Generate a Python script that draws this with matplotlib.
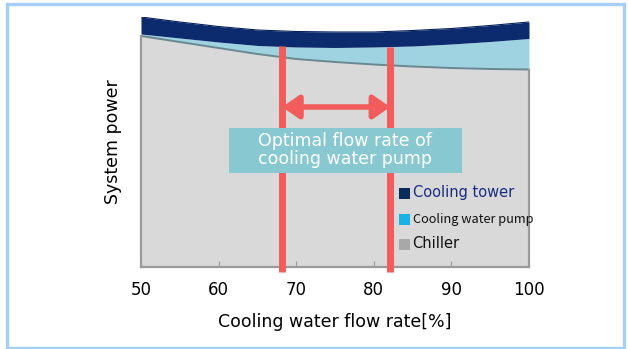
# System power vs cooling water flow rate (stacked areas)
import numpy as np
import matplotlib.pyplot as plt
from matplotlib.patches import Rectangle

flow = [50, 55, 60, 65, 70, 75, 80, 85, 90, 95, 100]
chiller = [92.4, 90.0, 87.6, 85.2, 83.2, 82.0, 81.0, 80.2, 79.6, 79.2, 79.0]
pump = [0.8, 1.6, 2.4, 3.4, 4.8, 5.8, 7.0, 8.2, 9.6, 11.0, 12.4]
tower = [6.8, 6.4, 6.2, 6.2, 6.2, 6.2, 6.0, 6.2, 6.2, 6.4, 6.6]
optimal = [68.2, 82.1]
xticks = [50, 60, 70, 80, 90, 100]

c_chiller = '#d9d9d9'
c_pump = '#9fd3e2'
c_tower = '#0c2b6e'
c_red = '#f25c5c'

x = np.array(flow)
y1 = np.array(chiller)
y2 = y1 + np.array(pump)
y3 = y2 + np.array(tower)

fig = plt.figure(figsize=(6.28, 3.49), dpi=100)
ax = fig.add_axes([141/628, 1 - 267/349, 388/628, 250/349])

ax.fill_between(x, 0, y1, color=c_chiller, lw=0)
ax.fill_between(x, y1, y2, color=c_pump, lw=0)
ax.fill_between(x, y2, y3, color=c_tower, lw=0)
ax.plot(x, y1, color='#6a8890', lw=1.4)
ax.plot(x, y3, color='#07205a', lw=0.8)

# frame only around the grey part
ax.plot([50, 50], [0, y1[0]], color='#9a9a9a', lw=1.6, clip_on=False)
ax.plot([100, 100], [0, y1[-1]], color='#9a9a9a', lw=1.6, clip_on=False)
for s in ['left', 'right', 'top']:
    ax.spines[s].set_visible(False)
ax.spines['bottom'].set_color('#9a9a9a')
ax.spines['bottom'].set_linewidth(1.6)

ax.set_xlim(50, 100)
ax.set_ylim(0, 100)
ax.set_xticks(xticks)
ax.set_xticklabels([str(t) for t in xticks])
ax.tick_params(axis='x', direction='in', length=4, color='#9a9a9a', labelsize=12, pad=10)
ax.set_yticks([])

# optimal range lines
for xv in optimal:
    ax.plot([xv, xv], [-2, np.interp(xv, x, y2)], color=c_red, lw=5, clip_on=False,
            solid_capstyle='butt', zorder=3)
ax.annotate('', xy=(optimal[1], 64), xytext=(optimal[0], 64),
            arrowprops=dict(arrowstyle='<|-|>,head_length=1.0,head_width=0.7',
                            color=c_red, lw=4, shrinkA=0, shrinkB=0), zorder=4)

ax.add_patch(Rectangle((61.3, 37.6), 30.1, 18.0, facecolor='#88c9d1', edgecolor='none', zorder=5))
ax.text(76.3, 46.6, 'Optimal flow rate of\ncooling water pump', ha='center', va='center',
        color='white', fontsize=12.5, linespacing=1.0, zorder=6)

# legend
items = [('Cooling tower', '#0a2a5a', '#1a2a80', 10.5, ['DejaVu Sans']),
         ('Cooling water pump', '#1ab0e8', '#111111', 9.2, ['Noto Sans CJK JP', 'DejaVu Sans']),
         ('Chiller', '#a8a8a8', '#111111', 10.5, ['DejaVu Sans'])]
ys = [29.6, 19.2, 9.2]
for (lab, sq, tc, fs, fam), yy in zip(items, ys):
    ax.add_patch(Rectangle((83.3, yy - 2.2), 1.4, 4.4, facecolor=sq, edgecolor='none', zorder=5))
    ax.text(85.0, yy, lab, ha='left', va='center', color=tc, fontsize=fs, family=fam, zorder=6)

ax.set_xlabel('Cooling water flow rate[%]', fontsize=12.5, labelpad=10)
ax.set_ylabel('System power', fontsize=12.5, labelpad=14)

# light blue frame around the picture
fig.patches.append(Rectangle((6.5/628, 1.5/349), 617.5/628, 344/349, transform=fig.transFigure,
                             facecolor='none', edgecolor='#a6cff7', lw=2.4))

plt.savefig('out.png', dpi=100)
